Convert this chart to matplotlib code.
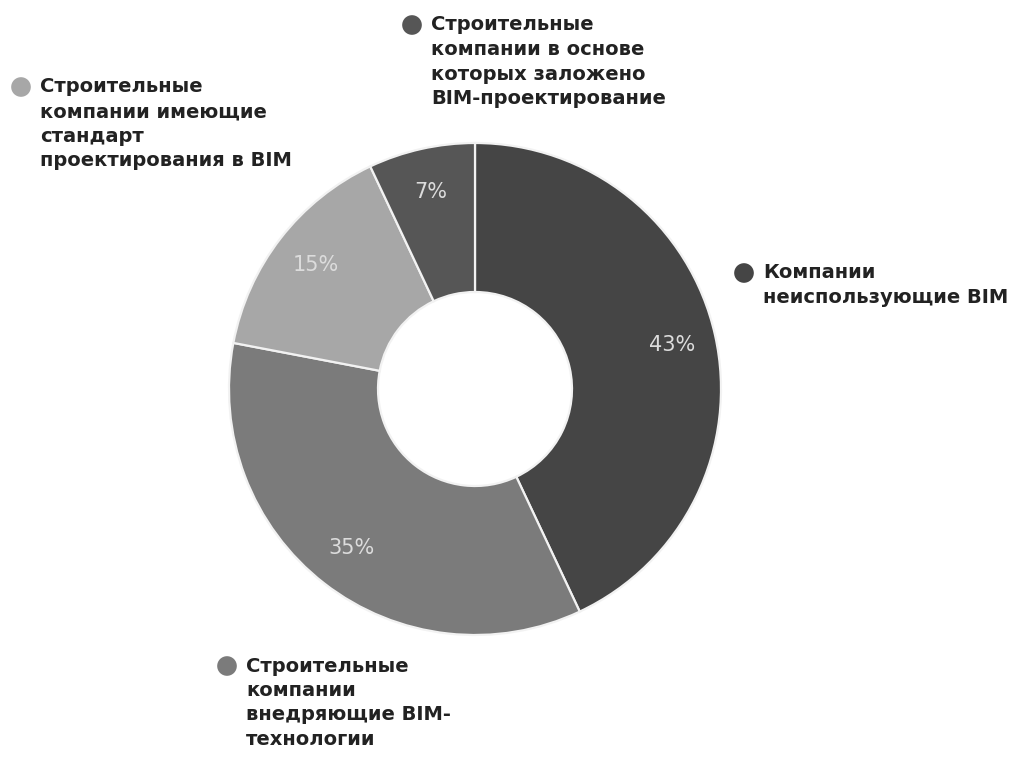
import matplotlib
matplotlib.use("Agg")
import matplotlib.pyplot as plt

# Share of companies by BIM adoption
categories = [
    "Компании\nнеиспользующие BIM",
    "Строительные\nкомпании\nвнедряющие BIM-\nтехнологии",
    "Строительные\nкомпании имеющие\nстандарт\nпроектирования в BIM",
    "Строительные\nкомпании в основе\nкоторых заложено\nBIM-проектирование",
]
shares = [43, 35, 15, 7]
colors = ["#454545", "#7b7b7b", "#a7a7a7", "#565656"]

W, H = 1021, 764
fig = plt.figure(figsize=(W / 100, H / 100), dpi=100)
ax = fig.add_axes([0, 0, 1, 1])

cx, cy, R = 475, H - 389, 246
hole = 97

wedges, _, autotexts = ax.pie(
    shares,
    colors=colors,
    startangle=90,
    counterclock=False,
    center=(cx, cy),
    radius=R,
    autopct="%d%%",
    pctdistance=0.82,
    wedgeprops=dict(width=R - hole, edgecolor="#f2f2f2", linewidth=1.6),
    textprops=dict(color="#dcdcdc", fontsize=15, family="DejaVu Sans"),
    frame=True,
)
ax.set_xlim(0, W)
ax.set_ylim(0, H)
ax.set_aspect("equal")
ax.axis("off")

# Legend entries placed around the ring: (marker x, first line y) in pixels
legend_pos = [(744, 273), (227, 666), (21, 87), (412, 25)]
line_step = 24.5
for label, col, (mx, my) in zip(categories, colors, legend_pos):
    ax.scatter([mx], [H - my], s=200, color=col, edgecolors="none", zorder=3)
    for i, line in enumerate(label.split("\n")):
        ax.text(mx + 19, H - (my + i * line_step), line, ha="left", va="center",
                fontsize=14, fontweight="bold", family="DejaVu Sans", color="#222222")

fig.savefig("out.png", dpi=100, facecolor="white")
